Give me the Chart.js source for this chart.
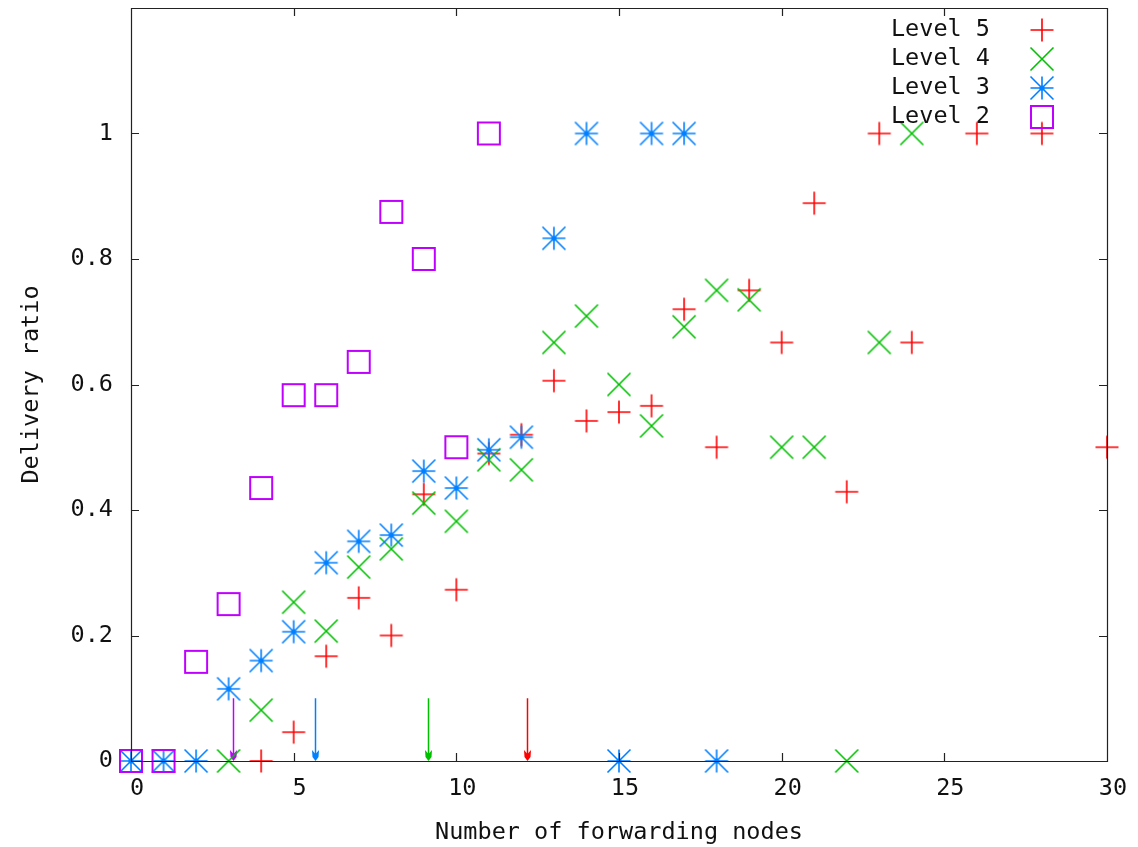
<!DOCTYPE html>
<html>
<head>
<meta charset="utf-8">
<script src="https://cdn.jsdelivr.net/npm/chart.js@4.4.1/dist/chart.umd.min.js"></script>
<style>
  html, body { margin: 0; padding: 0; background: #fff; }
  #wrap { width: 1138px; height: 847px; }
</style>
</head>
<body>
<div id="wrap"><canvas id="deliveryRatio"></canvas></div>
<script>
    "use strict";

    // forwarding nodes (x) and delivery ratio (y) per level
    const level5X = [4, 5, 6, 7, 8, 9, 10, 11, 12, 13, 14, 15, 16, 17, 18, 19, 20, 21, 22, 23, 24, 26, 28, 30];
    const level5Y = [0, 0.046, 0.167, 0.26, 0.2, 0.425, 0.273, 0.49, 0.52, 0.606, 0.542, 0.556, 0.566, 0.72, 0.5, 0.75, 0.667, 0.889, 0.429, 1, 0.667, 1, 1, 0.5];

    const level4X = [3, 4, 5, 6, 7, 8, 9, 10, 11, 12, 13, 14, 15, 16, 17, 18, 19, 20, 21, 22, 23, 24];
    const level4Y = [0, 0.081, 0.253, 0.207, 0.309, 0.338, 0.411, 0.382, 0.48, 0.464, 0.667, 0.709, 0.6, 0.534, 0.692, 0.75, 0.735, 0.5, 0.5, 0, 0.667, 1];

    const level3X = [0, 1, 2, 3, 4, 5, 6, 7, 8, 9, 10, 11, 12, 13, 14, 15, 16, 17, 18];
    const level3Y = [0, 0, 0, 0.115, 0.16, 0.206, 0.316, 0.35, 0.36, 0.462, 0.435, 0.496, 0.516, 0.833, 1, 0, 1, 1, 0];

    const level2X = [0, 1, 2, 3, 4, 5, 6, 7, 8, 9, 10, 11];
    const level2Y = [0, 0, 0.158, 0.25, 0.435, 0.583, 0.583, 0.636, 0.875, 0.8, 0.5, 1];

    // arrows on the x axis (level 5, 4, 3, 2)
    const arrowX = [12.17, 9.13, 5.66, 3.13];
    const arrowTop = 0.1;

    const levelNames = ['Level 5', 'Level 4', 'Level 3', 'Level 2'];
    const levelColors = ['#ff0000', '#00c000', '#0080ff', '#c000ff'];

    const xTicks = [0, 5, 10, 15, 20, 25, 30];
    const yTicks = [0, 0.2, 0.4, 0.6, 0.8, 1];

    const font = { family: 'DejaVu Sans Mono', size: 23.5 };
    const ink = '#111';

    function marker(kind, color) {
        const c = document.createElement('canvas');
        c.width = 26; c.height = 26;
        const g = c.getContext('2d');
        const m = 13, h = 11.5;
        g.strokeStyle = color;
        g.fillStyle = color;
        g.lineWidth = 1.6;
        g.beginPath();
        if (kind === 'plus' || kind === 'star') {
            g.moveTo(m - h, m); g.lineTo(m + h, m);
            g.moveTo(m, m - h); g.lineTo(m, m + h);
        }
        if (kind === 'cross' || kind === 'star') {
            g.moveTo(m - h, m - h); g.lineTo(m + h, m + h);
            g.moveTo(m - h, m + h); g.lineTo(m + h, m - h);
        }
        if (kind === 'box') {
            g.lineWidth = 2;
            g.rect(m - 11, m - 11, 22, 22);
        }
        g.stroke();
        if (kind === 'star') {
            g.beginPath();
            g.arc(m, m, 2.6, 0, Math.PI * 2);
            g.fill();
        }
        return c;
    }

    const markers = [
        marker('plus', levelColors[0]),
        marker('cross', levelColors[1]),
        marker('star', levelColors[2]),
        marker('box', levelColors[3])
    ];

    function pts(xs, ys) {
        return xs.map((x, i) => ({ x: x, y: ys[i] }));
    }

    const series = [pts(level5X, level5Y), pts(level4X, level4Y), pts(level3X, level3Y), pts(level2X, level2Y)];

    // gnuplot style frame: box with inward ticks on all sides
    const frame = {
        id: 'frame',
        beforeDatasetsDraw(chart) {
            const { ctx, scales: { x, y } } = chart;
            ctx.save();
            ctx.lineWidth = 1.5;
            arrowX.forEach((ax, i) => {
                const px = Math.round(x.getPixelForValue(ax)) + 0.5;
                const top = y.getPixelForValue(arrowTop);
                const tip = y.getPixelForValue(0);
                ctx.strokeStyle = levelColors[i];
                ctx.fillStyle = levelColors[i];
                ctx.beginPath();
                ctx.moveTo(px, top);
                ctx.lineTo(px, tip - 6);
                ctx.stroke();
                ctx.beginPath();
                ctx.moveTo(px - 3.5, tip - 11);
                ctx.lineTo(px, tip - 7);
                ctx.lineTo(px + 3.5, tip - 11);
                ctx.lineTo(px + 3, tip - 4);
                ctx.lineTo(px, tip);
                ctx.lineTo(px - 3, tip - 4);
                ctx.closePath();
                ctx.fill();
            });
            ctx.restore();
        },
        afterDatasetsDraw(chart) {
            const { ctx, chartArea: a, scales: { x, y } } = chart;
            ctx.save();
            ctx.strokeStyle = '#222';
            ctx.lineWidth = 1.2;
            ctx.beginPath();
            ctx.rect(Math.round(a.left) + 0.5, Math.round(a.top) + 0.5, Math.round(a.right - a.left), Math.round(a.bottom - a.top));
            xTicks.forEach(v => {
                const px = Math.round(x.getPixelForValue(v)) + 0.5;
                ctx.moveTo(px, a.bottom); ctx.lineTo(px, a.bottom - 8);
                ctx.moveTo(px, a.top); ctx.lineTo(px, a.top + 8);
            });
            yTicks.forEach(v => {
                const py = Math.round(y.getPixelForValue(v)) + 0.5;
                ctx.moveTo(a.left, py); ctx.lineTo(a.left + 8, py);
                ctx.moveTo(a.right, py); ctx.lineTo(a.right - 8, py);
            });
            ctx.stroke();

            // key, text left of symbol
            ctx.font = font.size + 'px "' + font.family + '"';
            ctx.fillStyle = ink;
            ctx.textAlign = 'right';
            ctx.textBaseline = 'middle';
            chart.data.datasets.forEach((ds, i) => {
                const ly = a.top + 22 + i * 29;
                ctx.fillText(ds.label, a.right - 117, ly);
                ctx.drawImage(markers[i], Math.round(a.right - 65) - 13, Math.round(ly) - 13);
            });
            ctx.restore();
        }
    };

    const ctx = document.getElementById('deliveryRatio');
    new Chart(ctx, {
        type: 'scatter',
        data: {
            datasets: series.map((data, i) => ({
                label: levelNames[i],
                data: data,
                pointStyle: markers[i],
                pointRadius: 12,
                pointHoverRadius: 12,
                borderColor: levelColors[i],
                backgroundColor: levelColors[i],
                showLine: false,
                clip: false,
                order: 4 - i
            }))
        },
        options: {
            responsive: true,
            maintainAspectRatio: false,
            animation: false,
            events: [],
            layout: { autoPadding: false, padding: { top: 8, right: 31, bottom: 0, left: 0 } },
            plugins: {
                legend: { display: false },
                tooltip: { enabled: false }
            },
            scales: {
                x: {
                    type: 'linear',
                    min: 0,
                    max: 30,
                    afterBuildTicks: s => { s.ticks = xTicks.map(v => ({ value: v })); },
                    afterFit: s => { s.height = 86; s.paddingLeft = 0; s.paddingRight = 0; },
                    grid: { display: false, drawTicks: false },
                    border: { display: false },
                    ticks: { font: font, color: ink, padding: 14, labelOffset: 6, maxRotation: 0, autoSkip: false },
                    title: {
                        display: true,
                        text: 'Number of forwarding nodes',
                        font: font,
                        color: ink,
                        padding: { top: 0, bottom: 0 }
                    }
                },
                y: {
                    type: 'linear',
                    min: 0,
                    max: 1.2,
                    afterBuildTicks: s => { s.ticks = yTicks.map(v => ({ value: v })); },
                    afterFit: s => { s.width = 131; s.paddingTop = 0; s.paddingBottom = 0; },
                    grid: { display: false, drawTicks: false },
                    border: { display: false },
                    ticks: {
                        font: { family: font.family, size: font.size, lineHeight: 0.1 },
                        color: ink,
                        padding: 18,
                        callback: v => String(v)
                    },
                    title: {
                        display: true,
                        text: 'Delivery ratio',
                        font: font,
                        color: ink,
                        padding: { top: 18, bottom: 0 }
                    }
                }
            }
        },
        plugins: [frame]
    });
</script>
</body>
</html>
